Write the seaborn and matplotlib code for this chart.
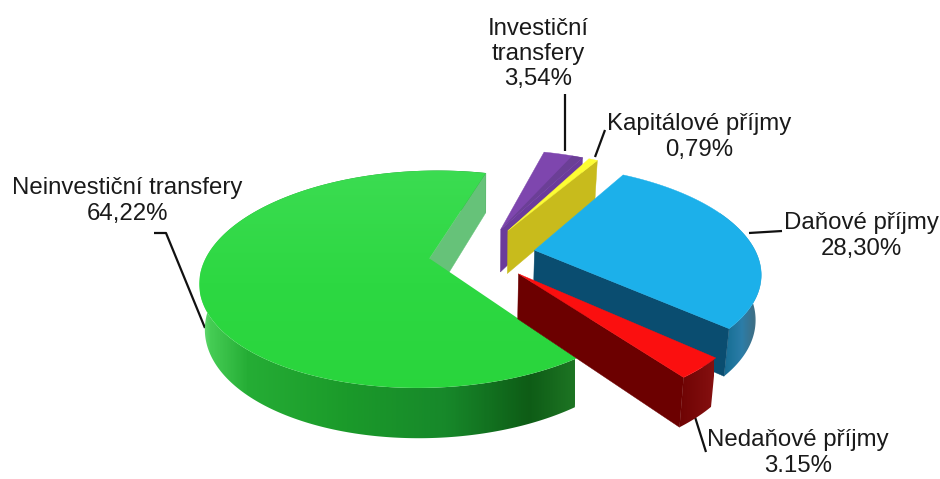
import numpy as np
import matplotlib
matplotlib.use("Agg")
import matplotlib.pyplot as plt
from matplotlib.colors import LinearSegmentedColormap
from matplotlib.patches import Polygon
import seaborn as sns

categories = ["Daňové příjmy", "Nedaňové příjmy", "Neinvestiční transfery", "Investiční transfery", "Kapitálové příjmy"]
values = [28.30, 3.15, 64.22, 3.54, 0.79]
value_labels = ["28,30%", "3.15%", "64,22%", "3,54%", "0,79%"]

top_colors = ["#1cb0ea", "#fb0f0f", "#2dd842", "#7e46ae", "#fdfd33"]
wall_colors = ["#0a4d70", "#6c0000", "#66c279", "#6b3b9b", "#c8bb1c"]
explode = [0.25, 0.25, 0.23, 0.27, 0.27]
radius = [1, 0.98, 1, 1, 1]
draw_order = [2, 3, 4, 0, 1]

# barvy boku podle x v obrazku
arc_stops = {
    "Daňové příjmy": [(720, "#15668f"), (730, "#1c7299"), (742, "#2c7da8"), (754, "#3d6f86"), (764, "#7b98a6")],
    "Nedaňové příjmy": [(676, "#6c0202"), (714, "#851010")],
    "Neinvestiční transfery": [(200, "#6fdb7c"), (210, "#45cc54"), (247, "#25ad35"), (347, "#1b9a2a"),
                               (447, "#17882a"), (530, "#0e5c16"), (575, "#1d7423")],
}

START_ANGLE = 30.5
CX, CY = 480, 254
RX, RY = 222, 103
PERSP = 0.19
DEPTH = 44
DEPTH_PERSP = 0.12
BOTTOM_SHRINK = 0.98


def project(x, y, bottom=False):
    w = 1 + PERSP * y
    sx = CX + RX * x / w
    sy = CY - RY * y / w
    if bottom:
        sx = CX + (sx - CX) * BOTTOM_SHRINK
        sy = sy + DEPTH / (1 + DEPTH_PERSP * y)
    return sx, sy


def ring(theta, ox, oy, r=1.0, bottom=False):
    return np.column_stack(project(r * np.sin(theta) + ox, r * np.cos(theta) + oy, bottom))


def gradient_fill(ax, poly, stops, z):
    # vodorovny prechod oriznuty na tvar
    x0, x1 = stops[0][0], stops[-1][0]
    cmap = LinearSegmentedColormap.from_list("arc", [((x - x0) / (x1 - x0), c) for x, c in stops])
    img = ax.imshow(np.linspace(0, 1, 400)[None, :], cmap=cmap, aspect="auto",
                    extent=[x0, x1, 479, 0], zorder=z)
    patch = Polygon(poly, fc="none", ec="none", zorder=z)
    ax.add_patch(patch)
    img.set_clip_path(patch)


sns.set_theme(style="white")
plt.rcParams["font.family"] = ["Liberation Sans", "DejaVu Sans"]

fig = plt.figure(figsize=(9.4, 4.79), dpi=100)
ax = fig.add_axes([0, 0, 1, 1])

bounds = START_ANGLE + np.concatenate([[0], np.cumsum(values)]) * 3.6

for n, i in enumerate(draw_order):
    z = 10 + n * 5
    a0, a1 = np.radians(bounds[i]), np.radians(bounds[i + 1])
    mid = (a0 + a1) / 2
    ox, oy = explode[i] * np.sin(mid), explode[i] * np.cos(mid)
    apex_top = np.array(project(ox, oy))
    apex_bot = np.array(project(ox, oy, True))

    theta = np.linspace(a0, a1, max(int(np.degrees(a1 - a0)) * 2, 4))
    top_edge = ring(theta, ox, oy, radius[i])
    bot_edge = ring(theta, ox, oy, radius[i], True)

    # oblouk
    if categories[i] in arc_stops:
        gradient_fill(ax, np.vstack([top_edge, bot_edge[::-1]]), arc_stops[categories[i]], z)

    # bocni stena, vidět je jen ta na konci výseče
    ax.add_patch(Polygon([apex_top, top_edge[-1], bot_edge[-1], apex_bot], fc=wall_colors[i],
                         ec=wall_colors[i], lw=0.3, zorder=z + 1))

    # horni plocha
    top_poly = np.vstack([apex_top, top_edge])
    if categories[i] == "Neinvestiční transfery":
        grad = sns.blend_palette(["#3cdc52", "#2dd842", "#29d53c"], as_cmap=True)
        img = ax.imshow(np.linspace(0, 1, 200)[:, None], cmap=grad, aspect="auto",
                        extent=[150, 620, 400, 165], zorder=z + 2)
        patch = Polygon(top_poly, fc="none", ec="none", zorder=z + 2)
        ax.add_patch(patch)
        img.set_clip_path(patch)
    else:
        ax.add_patch(Polygon(top_poly, fc=top_colors[i], ec=top_colors[i], lw=0.3, zorder=z + 2))
    if categories[i] == "Investiční transfery":
        shade = ring(np.linspace(a1 - np.radians(3.5), a1, 6), ox, oy)
        ax.add_patch(Polygon(np.vstack([apex_top, shade]), fc="#6b3f96", ec="none", zorder=z + 3))

# popisky
label_pos = [(861, 236), (798, 453), (127, 201), (538, 54), (699, 137)]
for name, lab, (x, y) in zip(categories, value_labels, label_pos):
    txt = name.replace("Investiční ", "Investiční\n") + "\n" + lab
    ax.text(x, y, txt, ha="center", va="center", fontsize=17.3, color="#1a1a1a", linespacing=1.18, zorder=50)

# odkazove cary
leaders = [
    [(749, 233), (782, 231)],
    [(695, 417), (706, 452)],
    [(154, 233), (166, 233), (205, 328)],
    [(565, 94), (565, 151)],
    [(605, 130), (595, 157)],
]
for pts in leaders:
    xs, ys = zip(*pts)
    ax.plot(xs, ys, color="#111111", lw=1.6, zorder=5, solid_capstyle="butt")

ax.set_xlim(0, 940)
ax.set_ylim(479, 0)
ax.axis("off")
fig.savefig("out.png", dpi=100, facecolor="white")
